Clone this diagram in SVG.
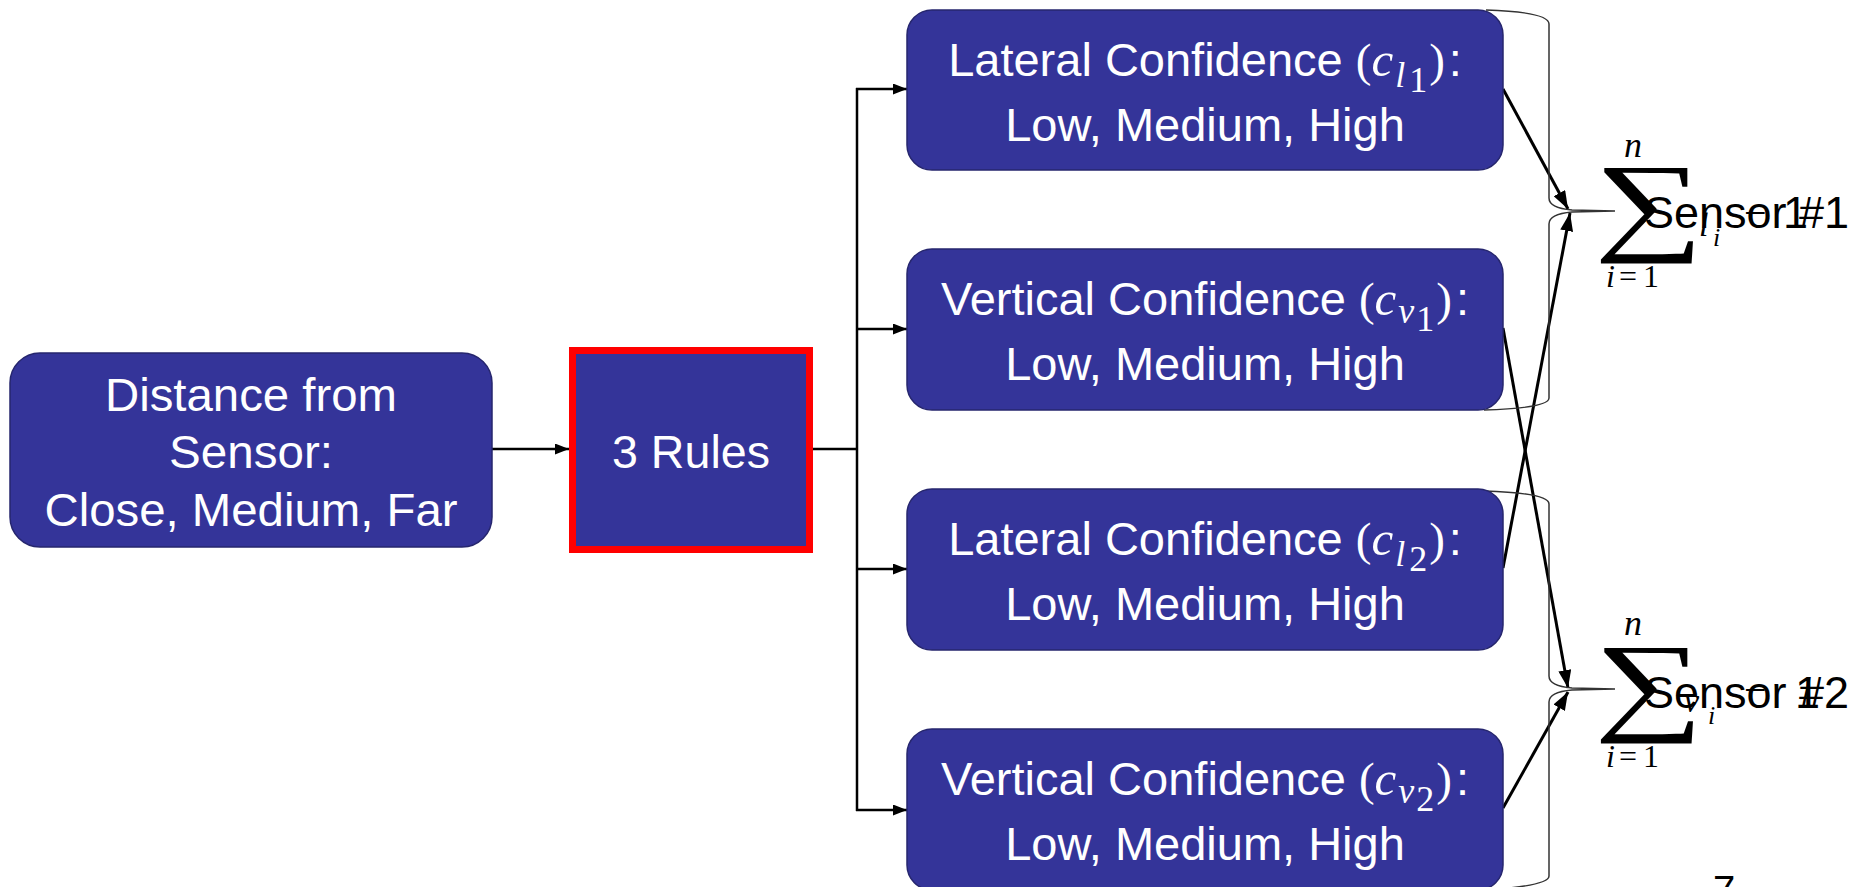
<svg xmlns="http://www.w3.org/2000/svg" width="1866" height="887" viewBox="0 0 1866 887">
<style>
.box{fill:#343499;stroke:#26266e;stroke-width:1.5}
.wt{fill:#fff;font-family:"Liberation Sans",Arial,sans-serif}
.lt{font-size:46px;text-anchor:middle}
.rt{font-size:47px;text-anchor:middle}
.mi{font-family:"Liberation Serif","DejaVu Serif",serif;font-style:italic}
.mr{font-family:"Liberation Serif","DejaVu Serif",serif}
.con{fill:none;stroke:#000;stroke-width:2.5}
.con2{fill:none;stroke:#000;stroke-width:3}
.brace{fill:none;stroke:#333;stroke-width:1.5}
.bt{fill:#000;font-family:"Liberation Sans",Arial,sans-serif;font-size:45px}
.ms{fill:#000;font-family:"Liberation Serif","DejaVu Serif",serif}
</style>
<defs>
<marker id="ah" viewBox="0 0 14 11" refX="14" refY="5.5" markerWidth="14" markerHeight="11" markerUnits="userSpaceOnUse" orient="auto"><path d="M0,0 L14,5.5 L0,11 z" fill="#000"/></marker>
<marker id="ah2" viewBox="0 0 18 13" refX="18" refY="6.5" markerWidth="18" markerHeight="13" markerUnits="userSpaceOnUse" orient="auto"><path d="M0,0 L18,6.5 L0,13 z" fill="#000"/></marker>
</defs>

<g id="connectors">
<path class="con" d="M492,449 L569,449" marker-end="url(#ah)"/>
<path class="con" d="M813,449 L857,449 M857,88 L857,811"/>
<path class="con" d="M856,89 L907,89" marker-end="url(#ah)"/>
<path class="con" d="M856,329 L907,329" marker-end="url(#ah)"/>
<path class="con" d="M856,569 L907,569" marker-end="url(#ah)"/>
<path class="con" d="M856,810 L907,810" marker-end="url(#ah)"/>
<path class="con2" d="M1503,89 L1568,209" marker-end="url(#ah2)"/>
<path class="con2" d="M1503,568 L1570,213" marker-end="url(#ah2)"/>
<path class="con2" d="M1503,328 L1568,688" marker-end="url(#ah2)"/>
<path class="con2" d="M1503,808 L1568,692" marker-end="url(#ah2)"/>
</g>

<g id="brace1">
<path class="brace" d="M1486,10 Q1549,12 1549,24 L1549,198 Q1549,208 1572,210 L1615,211 L1572,212 Q1549,214 1549,224 L1549,398 Q1549,408 1484,410"/>
</g>
<g id="brace2">
<path class="brace" d="M1484,491 Q1549,493 1549,504 L1549,676 Q1549,686 1572,688 L1615,689 L1572,690 Q1549,692 1549,702 L1549,876 Q1549,886 1484,890"/>
</g>

<g id="node-distance">
<rect class="box" x="10" y="353" width="482" height="194" rx="30"/>
<text class="wt lt" x="251" y="411" textLength="292" lengthAdjust="spacingAndGlyphs">Distance from</text>
<text class="wt lt" x="251" y="468" textLength="164" lengthAdjust="spacingAndGlyphs">Sensor:</text>
<text class="wt lt" x="251" y="526" textLength="413" lengthAdjust="spacingAndGlyphs">Close, Medium, Far</text>
</g>

<g id="node-rules">
<rect x="572.5" y="350.5" width="237" height="199" fill="#343499" stroke="#ff0000" stroke-width="7"/>
<text class="wt lt" x="691" y="468" textLength="158" lengthAdjust="spacingAndGlyphs">3 Rules</text>
</g>

<g id="node-lat1">
<rect class="box" x="907" y="10" width="596" height="160" rx="25"/>
<text class="wt rt" x="1205" y="76">Lateral Confidence <tspan class="mr">(</tspan><tspan class="mi" font-size="49">c</tspan><tspan class="mi" font-size="36" dx="2" dy="11">l</tspan><tspan class="mr" font-size="36" dx="4" dy="5">1</tspan><tspan class="mr" dx="2" dy="-16">)</tspan><tspan dx="4">:</tspan></text>
<text class="wt rt" x="1205" y="141">Low, Medium, High</text>
</g>

<g id="node-vert1">
<rect class="box" x="907" y="249" width="596" height="161" rx="25"/>
<text class="wt rt" x="1205" y="315">Vertical Confidence <tspan class="mr">(</tspan><tspan class="mi" font-size="49">c</tspan><tspan class="mi" font-size="36" dx="2" dy="8">v</tspan><tspan class="mr" font-size="36" dx="2" dy="8">1</tspan><tspan class="mr" dx="2" dy="-16">)</tspan><tspan dx="4">:</tspan></text>
<text class="wt rt" x="1205" y="380">Low, Medium, High</text>
</g>

<g id="node-lat2">
<rect class="box" x="907" y="489" width="596" height="161" rx="25"/>
<text class="wt rt" x="1205" y="555">Lateral Confidence <tspan class="mr">(</tspan><tspan class="mi" font-size="49">c</tspan><tspan class="mi" font-size="36" dx="2" dy="11">l</tspan><tspan class="mr" font-size="36" dx="4" dy="5">2</tspan><tspan class="mr" dx="2" dy="-16">)</tspan><tspan dx="4">:</tspan></text>
<text class="wt rt" x="1205" y="620">Low, Medium, High</text>
</g>

<g id="node-vert2">
<rect class="box" x="907" y="729" width="596" height="161" rx="25"/>
<text class="wt rt" x="1205" y="795">Vertical Confidence <tspan class="mr">(</tspan><tspan class="mi" font-size="49">c</tspan><tspan class="mi" font-size="36" dx="2" dy="8">v</tspan><tspan class="mr" font-size="36" dx="2" dy="8">2</tspan><tspan class="mr" dx="2" dy="-16">)</tspan><tspan dx="4">:</tspan></text>
<text class="wt rt" x="1205" y="860">Low, Medium, High</text>
</g>

<g id="sum1">
<text class="ms" font-style="italic" font-size="36" x="1624" y="157">n</text>
<text class="ms" font-size="110" transform="translate(1594,240) scale(1.4,1)">∑</text>
<text class="ms" font-size="32" y="287"><tspan font-style="italic" x="1606">i</tspan><tspan x="1619">=</tspan><tspan x="1643">1</tspan></text>
<text class="bt" x="1644" y="228">Sensor #1</text>
<text class="ms" font-style="italic" font-size="34" x="1699" y="236">l</text>
<text class="ms" font-style="italic" font-size="26" x="1713" y="246">i</text>
<text class="ms" font-size="40" x="1744" y="226">−</text>
<text class="bt" x="1783" y="228">1</text>
</g>

<g id="sum2">
<text class="ms" font-style="italic" font-size="36" x="1624" y="635">n</text>
<text class="ms" font-size="110" transform="translate(1594,720) scale(1.4,1)">∑</text>
<text class="ms" font-size="32" y="767"><tspan font-style="italic" x="1606">i</tspan><tspan x="1619">=</tspan><tspan x="1643">1</tspan></text>
<text class="bt" x="1644" y="708">Sensor #2</text>
<text class="ms" font-style="italic" font-size="34" x="1684" y="712">v</text>
<text class="ms" font-style="italic" font-size="26" x="1708" y="724">i</text>
<text class="ms" font-size="40" x="1744" y="703">−</text>
<text class="bt" x="1795" y="708">1</text>
</g>

<text x="1713" y="904" font-family="Liberation Sans,Arial,sans-serif" font-size="40" fill="#000">7</text>
</svg>
